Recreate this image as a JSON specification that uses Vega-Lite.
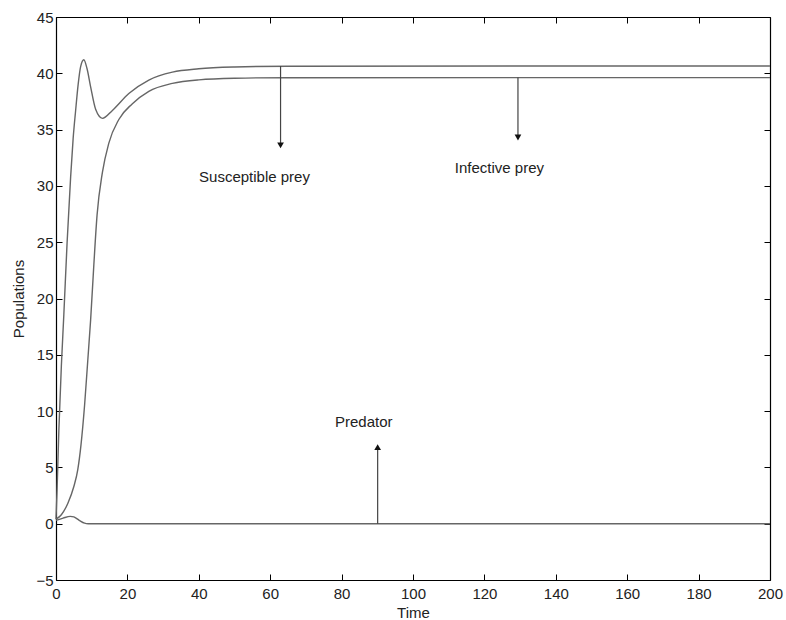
{
  "$schema": "https://vega.github.io/schema/vega-lite/v6.json",
  "width": 714,
  "height": 563,
  "autosize": "none",
  "padding": {"left": 56, "top": 17, "right": 16, "bottom": 40},
  "background": "white",
  "config": {
    "view": {"stroke": null},
    "font": "Liberation Sans",
    "axis": {
      "grid": false,
      "domainColor": "#000",
      "domainWidth": 1.2,
      "tickColor": "#000",
      "tickSize": -6,
      "tickWidth": 1,
      "labelFontSize": 15,
      "labelColor": "#222",
      "labelFlush": false,
      "labelOverlap": false,
      "titleFontSize": 15,
      "titleFontWeight": "normal",
      "titleColor": "#222"
    }
  },
  "datasets": {
    "curves": [
      {"t": 0, "v": 0.4, "s": "S"},
      {"t": 0.3, "v": 3, "s": "S"},
      {"t": 0.8, "v": 8.3, "s": "S"},
      {"t": 1.5, "v": 14, "s": "S"},
      {"t": 2.2, "v": 18.6, "s": "S"},
      {"t": 3.1, "v": 24.9, "s": "S"},
      {"t": 4.1, "v": 30.8, "s": "S"},
      {"t": 4.8, "v": 34.2, "s": "S"},
      {"t": 5.5, "v": 36.7, "s": "S"},
      {"t": 6.2, "v": 39.0, "s": "S"},
      {"t": 6.9, "v": 40.6, "s": "S"},
      {"t": 7.8, "v": 41.2, "s": "S"},
      {"t": 8.7, "v": 40.4, "s": "S"},
      {"t": 9.7, "v": 38.8, "s": "S"},
      {"t": 11.1, "v": 36.8, "s": "S"},
      {"t": 13.0, "v": 36.0, "s": "S"},
      {"t": 15.8, "v": 36.7, "s": "S"},
      {"t": 20.4, "v": 38.2, "s": "S"},
      {"t": 26, "v": 39.4, "s": "S"},
      {"t": 32.6, "v": 40.1, "s": "S"},
      {"t": 40, "v": 40.4, "s": "S"},
      {"t": 50, "v": 40.56, "s": "S"},
      {"t": 65, "v": 40.63, "s": "S"},
      {"t": 200, "v": 40.65, "s": "S"},
      {"t": 0, "v": 0.4, "s": "I"},
      {"t": 1.5, "v": 0.8, "s": "I"},
      {"t": 3.3, "v": 1.8, "s": "I"},
      {"t": 5.0, "v": 3.3, "s": "I"},
      {"t": 6.1, "v": 4.8, "s": "I"},
      {"t": 7.0, "v": 7.0, "s": "I"},
      {"t": 8.0, "v": 10.5, "s": "I"},
      {"t": 8.9, "v": 14.5, "s": "I"},
      {"t": 9.7, "v": 18.1, "s": "I"},
      {"t": 10.6, "v": 23.0, "s": "I"},
      {"t": 11.5, "v": 27.4, "s": "I"},
      {"t": 13.0, "v": 31.2, "s": "I"},
      {"t": 14.8, "v": 33.8, "s": "I"},
      {"t": 17.6, "v": 35.9, "s": "I"},
      {"t": 21.4, "v": 37.3, "s": "I"},
      {"t": 26, "v": 38.4, "s": "I"},
      {"t": 32.6, "v": 39.1, "s": "I"},
      {"t": 40, "v": 39.42, "s": "I"},
      {"t": 50, "v": 39.56, "s": "I"},
      {"t": 65, "v": 39.61, "s": "I"},
      {"t": 200, "v": 39.62, "s": "I"},
      {"t": 0, "v": 0.3, "s": "P"},
      {"t": 2, "v": 0.5, "s": "P"},
      {"t": 4, "v": 0.65, "s": "P"},
      {"t": 5, "v": 0.6, "s": "P"},
      {"t": 6.5, "v": 0.3, "s": "P"},
      {"t": 8, "v": 0.05, "s": "P"},
      {"t": 9, "v": 0, "s": "P"},
      {"t": 200, "v": 0, "s": "P"}
    ],
    "arrows": [
      {"t": 62.9, "from": 40.65, "to": 33.6, "shape": "triangle-down"},
      {"t": 129.4, "from": 39.62, "to": 34.3, "shape": "triangle-down"},
      {"t": 90.1, "from": 0, "to": 6.8, "shape": "triangle-up"}
    ],
    "labels": [
      {"t": 55.6, "v": 30.8, "text": "Susceptible prey"},
      {"t": 124.2, "v": 31.6, "text": "Infective prey"},
      {"t": 86.2, "v": 9.0, "text": "Predator"}
    ]
  },
  "resolve": {"axis": {"x": "independent", "y": "independent"}},
  "layer": [
    {
      "data": {"name": "curves"},
      "mark": {"type": "line", "interpolate": "monotone", "color": "#666", "strokeWidth": 1.4},
      "encoding": {
        "x": {
          "field": "t", "type": "quantitative",
          "scale": {"domain": [0, 200], "nice": false, "zero": false},
          "axis": {"orient": "bottom", "values": [0, 20, 40, 60, 80, 100, 120, 140, 160, 180, 200], "labelPadding": 12, "title": "Time", "titleY": 32, "titleBaseline": "middle"}
        },
        "y": {
          "field": "v", "type": "quantitative",
          "scale": {"domain": [-5, 45], "nice": false, "zero": false},
          "axis": {"orient": "left", "values": [-5, 0, 5, 10, 15, 20, 25, 30, 35, 40, 45], "labelPadding": 9, "title": "Populations", "titleX": -38, "titleY": 281.5, "titleAngle": -90, "titleAlign": "center", "titleBaseline": "middle"}
        },
        "detail": {"field": "s", "type": "nominal"}
      }
    },
    {
      "data": {"name": "arrows"},
      "mark": {"type": "rule", "color": "#444", "strokeWidth": 1.2},
      "encoding": {
        "x": {
          "field": "t", "type": "quantitative",
          "axis": {"orient": "top", "values": [0, 20, 40, 60, 80, 100, 120, 140, 160, 180, 200], "labels": false, "title": null}
        },
        "y": {
          "field": "from", "type": "quantitative",
          "axis": {"orient": "right", "values": [-5, 0, 5, 10, 15, 20, 25, 30, 35, 40, 45], "labels": false, "title": null}
        },
        "y2": {"field": "to"}
      }
    },
    {
      "data": {"name": "arrows"},
      "mark": {"type": "point", "filled": true, "color": "#111", "size": 45, "opacity": 1},
      "encoding": {
        "x": {"field": "t", "type": "quantitative", "axis": null},
        "y": {"field": "to", "type": "quantitative", "axis": null},
        "shape": {"field": "shape", "type": "nominal", "scale": {"domain": ["triangle-down", "triangle-up"], "range": ["triangle-down", "triangle-up"]}, "legend": null}
      }
    },
    {
      "data": {"name": "labels"},
      "mark": {"type": "text", "fontSize": 15, "color": "#222", "align": "center", "baseline": "middle"},
      "encoding": {
        "x": {"field": "t", "type": "quantitative", "axis": null},
        "y": {"field": "v", "type": "quantitative", "axis": null},
        "text": {"field": "text"}
      }
    }
  ]
}
